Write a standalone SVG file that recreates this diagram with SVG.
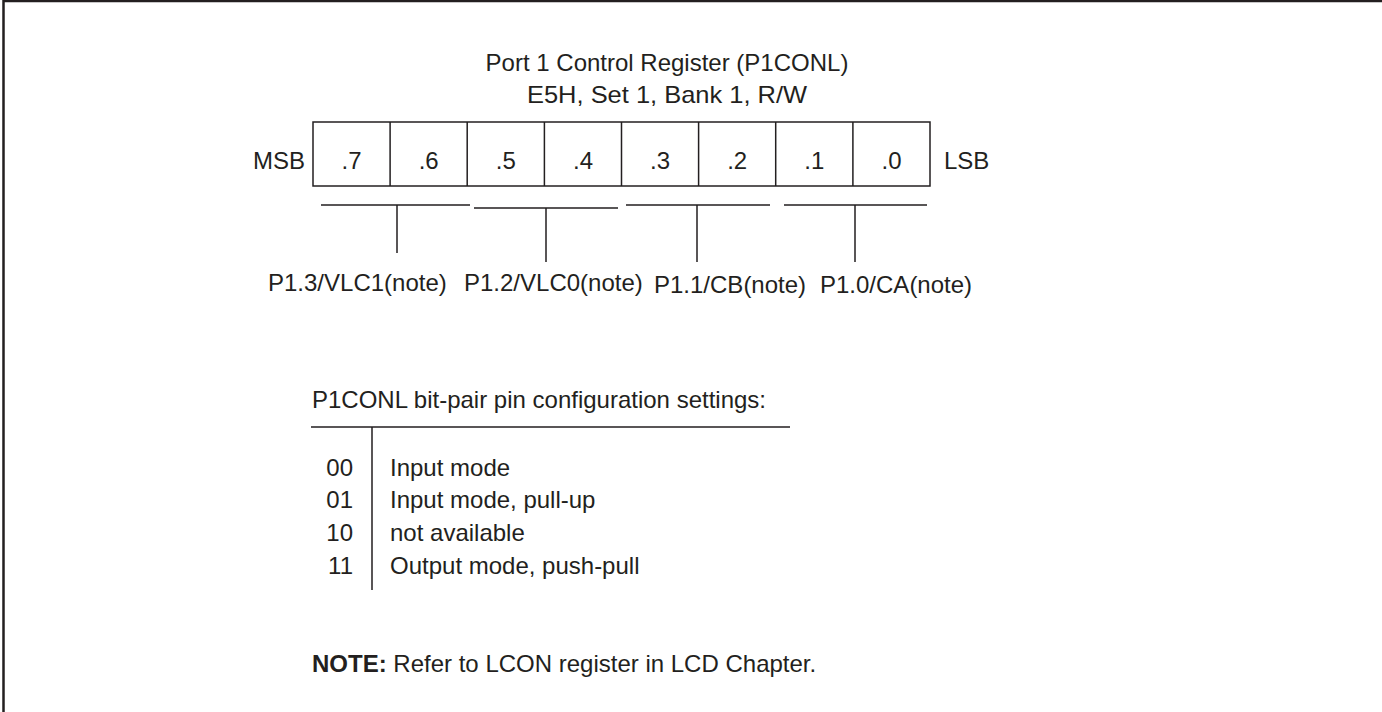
<svg xmlns="http://www.w3.org/2000/svg" width="1382" height="712" viewBox="0 0 1382 712">
<style>
text{font-family:"Liberation Sans",Arial,sans-serif;font-size:24px;fill:#231f20}
.c{text-anchor:middle}
.r{text-anchor:end}
.ln{stroke:#231f20;stroke-width:1.5;fill:none}
.fr{stroke:#231f20;stroke-width:2.5;fill:none}
.cell{stroke:#231f20;stroke-width:1.5;fill:#fff}
</style>
<g id="frame"><path class="fr" d="M3.5,712 V1 H1382"/></g>
<g id="title">
<text class="c" x="667" y="71">Port 1 Control Register (P1CONL)</text>
<text class="c" x="667" y="103" textLength="280" lengthAdjust="spacingAndGlyphs">E5H, Set 1, Bank 1, R/W</text>
</g>
<g id="register">
<text class="r" x="305" y="169">MSB</text>
<rect class="cell" x="313" y="122" width="617" height="64"/>
<path class="ln" d="M390.1,122V186M467.2,122V186M544.4,122V186M621.5,122V186M698.6,122V186M775.7,122V186M852.9,122V186"/>
<text class="c" x="351.6" y="169">.7</text>
<text class="c" x="428.7" y="169">.6</text>
<text class="c" x="505.8" y="169">.5</text>
<text class="c" x="583" y="169">.4</text>
<text class="c" x="660.1" y="169">.3</text>
<text class="c" x="737.2" y="169">.2</text>
<text class="c" x="814.3" y="169">.1</text>
<text class="c" x="891.5" y="169">.0</text>
<text x="944" y="169">LSB</text>
</g>
<g id="connectors">
<path class="ln" d="M321,205H470M397,205V253"/>
<path class="ln" d="M474,208H618M546,208V262"/>
<path class="ln" d="M626,205H770M697,205V262"/>
<path class="ln" d="M784,205H927M855,205V262"/>
</g>
<g id="labels">
<text x="268" y="291">P1.3/VLC1(note)</text>
<text x="464" y="291">P1.2/VLC0(note)</text>
<text x="654" y="293">P1.1/CB(note)</text>
<text x="820" y="293">P1.0/CA(note)</text>
</g>
<g id="table">
<text x="312" y="408">P1CONL bit-pair pin configuration settings:</text>
<path class="ln" d="M311,427H790M372,427V590"/>
<text class="r" x="353" y="476">00</text>
<text class="r" x="353" y="508">01</text>
<text class="r" x="353" y="541">10</text>
<text class="r" x="353" y="574">11</text>
<text x="390" y="476">Input mode</text>
<text x="390" y="508">Input mode, pull-up</text>
<text x="390" y="541">not available</text>
<text x="390" y="574">Output mode, push-pull</text>
</g>
<g id="note">
<text x="312" y="672"><tspan font-weight="bold">NOTE:</tspan> Refer to LCON register in LCD Chapter.</text>
</g>
</svg>
